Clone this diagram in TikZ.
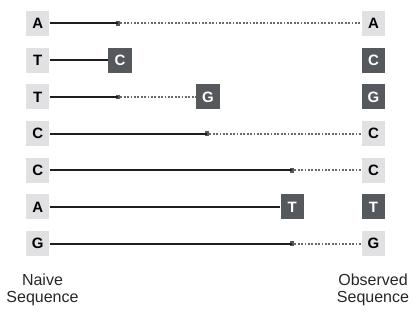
\documentclass[tikz,border=0pt]{standalone}
\usepackage{fontspec}
\setmainfont{Liberation Sans}
\definecolor{lightbox}{HTML}{E1E1E3}
\definecolor{darkbox}{HTML}{55585D}
\definecolor{solidc}{HTML}{1E1E1E}
\definecolor{dotc}{HTML}{6A6A6A}
\begin{document}
\begin{tikzpicture}[x=1pt,y=-1pt,
  naive/.style={fill=lightbox,minimum width=23.5pt,minimum height=25pt,inner sep=0pt,font=\fontsize{15}{15}\selectfont\bfseries,text=black},
  mutbox/.style={fill=darkbox,minimum width=23.5pt,minimum height=25pt,inner sep=0pt,font=\fontsize{15}{15}\selectfont\bfseries,text=white},
  solidline/.style={draw=solidc,line width=2pt},
  dotline/.style={draw=dotc,line width=2pt,dash pattern=on 1.8pt off 1.6pt},
  marker/.style={fill=darkbox,minimum size=4.5pt,inner sep=0pt},
  caption/.style={font=\fontsize{16}{17}\selectfont,text=black!85,align=center}
]
\useasboundingbox (0,0) rectangle (415,315);
% row 1
\node[naive] (n0) at (37.7,23.5) {A};
\node[naive] (o0) at (373.5,23.5) {A};
\node[marker] (m0) at (118,23.5) {};
\draw[solidline] (n0.east) -- (m0.center);
\draw[dotline] (m0.east) -- (o0.west);
% row 2
\node[naive] (n1) at (37.7,60.2) {T};
\node[mutbox] (x1) at (120,60.2) {C};
\node[mutbox] (o1) at (373.5,60.2) {C};
\draw[solidline] (n1.east) -- (x1.west);
% row 3
\node[naive] (n2) at (37.7,96.9) {T};
\node[marker] (m2) at (118,96.9) {};
\node[mutbox] (x2) at (208,96.9) {G};
\node[mutbox] (o2) at (373.5,96.9) {G};
\draw[solidline] (n2.east) -- (m2.center);
\draw[dotline] (m2.east) -- (x2.west);
% row 4
\node[naive] (n3) at (37.7,133.6) {C};
\node[marker] (m3) at (207,133.6) {};
\node[naive] (o3) at (373.5,133.6) {C};
\draw[solidline] (n3.east) -- (m3.center);
\draw[dotline] (m3.east) -- (o3.west);
% row 5
\node[naive] (n4) at (37.7,170.3) {C};
\node[marker] (m4) at (292,170.3) {};
\node[naive] (o4) at (373.5,170.3) {C};
\draw[solidline] (n4.east) -- (m4.center);
\draw[dotline] (m4.east) -- (o4.west);
% row 6
\node[naive] (n5) at (37.7,207) {A};
\node[mutbox] (x5) at (292.3,207) {T};
\node[mutbox] (o5) at (373.5,207) {T};
\draw[solidline] (n5.east) -- (x5.west);
% row 7
\node[naive] (n6) at (37.7,243.7) {G};
\node[marker] (m6) at (292,243.7) {};
\node[naive] (o6) at (373.5,243.7) {G};
\draw[solidline] (n6.east) -- (m6.center);
\draw[dotline] (m6.east) -- (o6.west);
% captions
\node[caption] (cn) at (42.5,290) {Naive\\Sequence};
\node[caption] (co) at (373,290) {Observed\\Sequence};
\end{tikzpicture}
\end{document}
